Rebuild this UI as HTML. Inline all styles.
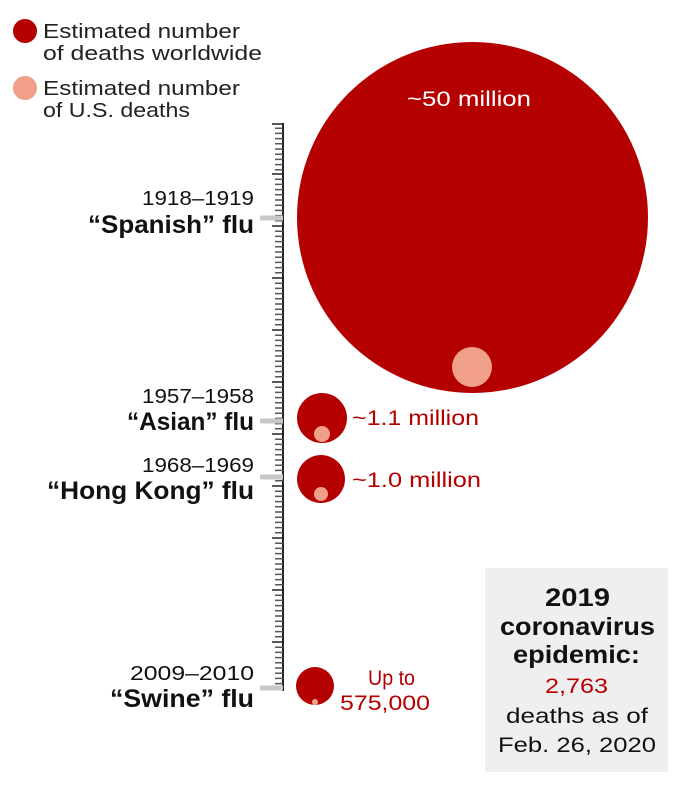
<!DOCTYPE html>
<html><head><meta charset="utf-8"><style>
body{margin:0;background:#fff;}
svg text{font-family:"Liberation Sans",sans-serif;}
</style></head><body>
<svg width="680" height="787" viewBox="0 0 680 787" xmlns="http://www.w3.org/2000/svg">
<circle cx="25" cy="31" r="12" fill="#b50000"/>
<circle cx="25" cy="88" r="12" fill="#f0a08a"/>
<g lengthAdjust="spacingAndGlyphs">
<text x="43" y="38" font-size="20" fill="#222" textLength="197" lengthAdjust="spacingAndGlyphs">Estimated number</text>
<text x="43" y="60" font-size="20" fill="#222" textLength="219" lengthAdjust="spacingAndGlyphs">of deaths worldwide</text>
<text x="43" y="95" font-size="20" fill="#222" textLength="197" lengthAdjust="spacingAndGlyphs">Estimated number</text>
<text x="43" y="117" font-size="20" fill="#222" textLength="147" lengthAdjust="spacingAndGlyphs">of U.S. deaths</text>
</g>
<line x1="283" y1="123" x2="283" y2="691" stroke="#222" stroke-width="2"/>
<g stroke="#555" stroke-width="1.5">
<path d="M275 128.2H283M275 133.4H283M275 138.6H283M275 143.8H283M275 149H283M275 154.2H283M275 159.4H283M275 164.6H283M275 169.8H283
M275 179.2H283M275 184.4H283M275 189.6H283M275 194.8H283M275 200H283M275 205.2H283M275 210.4H283M275 215.6H283M275 220.8H283
M275 231.2H283M275 236.4H283M275 241.6H283M275 246.8H283M275 252H283M275 257.2H283M275 262.4H283M275 267.6H283M275 272.8H283
M275 283.2H283M275 288.4H283M275 293.6H283M275 298.8H283M275 304H283M275 309.2H283M275 314.4H283M275 319.6H283M275 324.8H283
M275 335.2H283M275 340.4H283M275 345.6H283M275 350.8H283M275 356H283M275 361.2H283M275 366.4H283M275 371.6H283M275 376.8H283
M275 387.2H283M275 392.4H283M275 397.6H283M275 402.8H283M275 408H283M275 413.2H283M275 418.4H283M275 423.6H283M275 428.8H283
M275 439.2H283M275 444.4H283M275 449.6H283M275 454.8H283M275 460H283M275 465.2H283M275 470.4H283M275 475.6H283M275 480.8H283
M275 491.2H283M275 496.4H283M275 501.6H283M275 506.8H283M275 512H283M275 517.2H283M275 522.4H283M275 527.6H283M275 532.8H283
M275 543.2H283M275 548.4H283M275 553.6H283M275 558.8H283M275 564H283M275 569.2H283M275 574.4H283M275 579.6H283M275 584.8H283
M275 595.2H283M275 600.4H283M275 605.6H283M275 610.8H283M275 616H283M275 621.2H283M275 626.4H283M275 631.6H283M275 636.8H283
M275 647.2H283M275 652.4H283M275 657.6H283M275 662.8H283M275 668H283M275 673.2H283M275 678.4H283M275 683.6H283"/>
</g>
<g stroke="#222" stroke-width="1.5">
<path d="M272 124H283M272 174H283M272 226H283M272 278H283M272 330H283M272 382H283M272 434H283M272 486H283M272 538H283M272 590H283M272 642H283"/>
</g>
<g stroke="#c8c8c8" stroke-width="5">
<line x1="260" y1="218" x2="283" y2="218"/>
<line x1="260" y1="421" x2="283" y2="421"/>
<line x1="260" y1="477" x2="283" y2="477"/>
<line x1="260" y1="688" x2="283" y2="688"/>
</g>
<g text-anchor="end" fill="#111">
<text x="254" y="205" font-size="20" textLength="112" lengthAdjust="spacingAndGlyphs">1918–1919</text>
<text x="254" y="233" font-size="25" font-weight="bold" textLength="166" lengthAdjust="spacingAndGlyphs">“Spanish” flu</text>
<text x="254" y="403" font-size="20" textLength="112" lengthAdjust="spacingAndGlyphs">1957–1958</text>
<text x="254" y="430" font-size="25" font-weight="bold" textLength="127" lengthAdjust="spacingAndGlyphs">“Asian” flu</text>
<text x="254" y="472" font-size="20" textLength="112" lengthAdjust="spacingAndGlyphs">1968–1969</text>
<text x="254" y="499" font-size="25" font-weight="bold" textLength="207" lengthAdjust="spacingAndGlyphs">“Hong Kong” flu</text>
<text x="254" y="680" font-size="20" textLength="124" lengthAdjust="spacingAndGlyphs">2009–2010</text>
<text x="254" y="707" font-size="25" font-weight="bold" textLength="144" lengthAdjust="spacingAndGlyphs">“Swine” flu</text>
</g>
<circle cx="472.5" cy="217.5" r="175.5" fill="#b50000"/>
<circle cx="472" cy="367" r="20" fill="#f0a08a"/>
<text x="407" y="106" font-size="21" fill="#fff" textLength="124" lengthAdjust="spacingAndGlyphs">~50 million</text>
<circle cx="322" cy="418" r="25" fill="#b50000"/>
<circle cx="322" cy="434" r="8" fill="#f0a08a"/>
<text x="352" y="425" font-size="21" fill="#b50000" textLength="127" lengthAdjust="spacingAndGlyphs">~1.1 million</text>
<circle cx="321" cy="479" r="24" fill="#b50000"/>
<circle cx="321" cy="494" r="7" fill="#f0a08a"/>
<text x="352" y="487" font-size="21" fill="#b50000" textLength="129" lengthAdjust="spacingAndGlyphs">~1.0 million</text>
<circle cx="315" cy="686" r="19" fill="#b50000"/>
<circle cx="315" cy="702" r="3" fill="#f0a08a"/>
<text x="368" y="685" font-size="21" fill="#b50000" textLength="47" lengthAdjust="spacingAndGlyphs">Up to</text>
<text x="340" y="710" font-size="21" fill="#b50000" textLength="90" lengthAdjust="spacingAndGlyphs">575,000</text>
<rect x="485" y="568" width="183" height="204" fill="#efefef"/>
<g fill="#111">
<text x="545" y="606" font-size="25" font-weight="bold" textLength="65" lengthAdjust="spacingAndGlyphs">2019</text>
<text x="500" y="635" font-size="25" font-weight="bold" textLength="155" lengthAdjust="spacingAndGlyphs">coronavirus</text>
<text x="513" y="663" font-size="25" font-weight="bold" textLength="127" lengthAdjust="spacingAndGlyphs">epidemic:</text>
<text x="545" y="693" font-size="21" fill="#b50000" textLength="63" lengthAdjust="spacingAndGlyphs">2,763</text>
<text x="506" y="723" font-size="21" textLength="142" lengthAdjust="spacingAndGlyphs">deaths as of</text>
<text x="498" y="752" font-size="21" textLength="158" lengthAdjust="spacingAndGlyphs">Feb. 26, 2020</text>
</g>
</svg>
</body></html>
